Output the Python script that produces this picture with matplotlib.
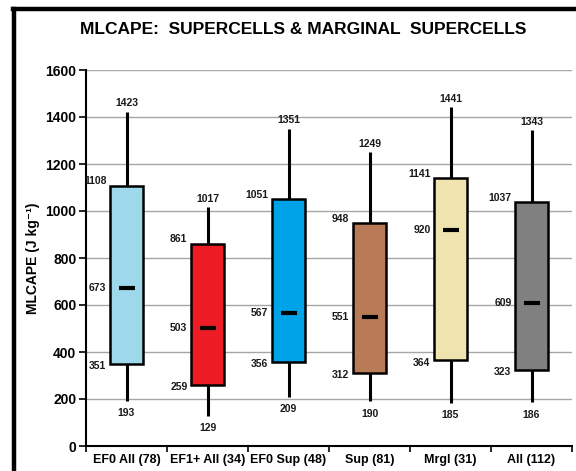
import numpy as np
import matplotlib
matplotlib.use('Agg')
import matplotlib.pyplot as plt
from matplotlib.lines import Line2D

plt.rcParams['font.family'] = ['Liberation Sans', 'DejaVu Sans']

categories = ['EF0 All (78)', 'EF1+ All (34)', 'EF0 Sup (48)',
              'Sup (81)', 'Mrgl (31)', 'All (112)']
mins = [193, 129, 209, 190, 185, 186]
q1 = [351, 259, 356, 312, 364, 323]
medians = [673, 503, 567, 551, 920, 609]
q3 = [1108, 861, 1051, 948, 1141, 1037]
maxs = [1423, 1017, 1351, 1249, 1441, 1343]
box_colors = ['#9DD9EA', '#ED1C24', '#00A2E8', '#B97A57', '#EFE4B0', '#808080']
title = 'MLCAPE:  SUPERCELLS & MARGINAL  SUPERCELLS'


def main():
    fig = plt.figure(figsize=(5.76, 4.71), dpi=100)
    ax = fig.add_axes([86/576, 25/471, 486/576, 376/471])

    x = np.arange(len(categories)) + 0.5
    width = 0.41

    # gridlines
    ax.set_ylim(0, 1600)
    ax.set_xlim(0, len(categories))
    ax.set_yticks(np.arange(0, 1601, 200))
    ax.yaxis.grid(True, color='#A6A6A6', linewidth=1.0)
    ax.set_axisbelow(True)

    # whiskers behind the boxes
    ax.vlines(x, mins, q1, color='black', linewidth=2.2, zorder=2)
    ax.vlines(x, q3, maxs, color='black', linewidth=2.2, zorder=2)
    ax.bar(x, np.array(q3) - np.array(q1), bottom=q1, width=width,
           color=box_colors, edgecolor='black', linewidth=1.8, zorder=3)
    ax.plot(x, medians, linestyle='none', marker='_', markersize=12,
            markeredgewidth=3, color='black', zorder=4)

    lbl = dict(fontsize=7.5, fontweight='bold', color='#1a1a1a',
               textcoords='offset points', zorder=5)
    half = width / 2
    for i in range(len(categories)):
        ax.annotate(str(maxs[i]), (x[i], maxs[i]), xytext=(0, 6),
                    ha='center', va='center', **lbl)
        ax.annotate(str(mins[i]), (x[i], mins[i]), xytext=(0, -9),
                    ha='center', va='center', **lbl)
        ax.annotate(str(q3[i]), (x[i] - half, q3[i]), xytext=(-2.5, 3),
                    ha='right', va='center', **lbl)
        ax.annotate(str(medians[i]), (x[i] - half, medians[i]), xytext=(-2.5, 0),
                    ha='right', va='center', **lbl)
        ax.annotate(str(q1[i]), (x[i] - half, q1[i]), xytext=(-2.5, -1.5),
                    ha='right', va='center', **lbl)

    # category boundary ticks on x axis
    ax.set_xticks(np.arange(0, len(categories) + 1))
    ax.set_xticklabels([])
    ax.set_xticks(x, minor=True)
    ax.set_xticklabels(categories, minor=True, fontsize=9, fontweight='bold')
    ax.tick_params(axis='x', which='minor', length=0, pad=6)
    ax.tick_params(axis='x', which='major', length=4, width=1.2, direction='out')
    ax.tick_params(axis='y', length=5, width=1.2, direction='out', pad=2,
                   labelsize=10)
    for t in ax.get_yticklabels():
        t.set_fontweight('bold')

    for side in ['top', 'right']:
        ax.spines[side].set_visible(False)
    ax.spines['left'].set_linewidth(1.5)
    ax.spines['bottom'].set_linewidth(1.5)

    ax.set_ylabel('MLCAPE (J kg\u207b\u00b9)', fontsize=10,
                  fontweight='bold', labelpad=4)

    fig.text(303/576, 1 - 30/471, title, ha='center', va='center',
             fontsize=12.5, fontweight='bold')

    # outer frame (top and left edges visible)
    fig.add_artist(Line2D([14/576, 14/576], [0, 1 - 9/471], color='black',
                          linewidth=3.2, transform=fig.transFigure))
    fig.add_artist(Line2D([12.5/576, 1], [1 - 9/471, 1 - 9/471], color='black',
                          linewidth=3.2, transform=fig.transFigure))

    fig.savefig('out.png', dpi=100)


if __name__ == '__main__':
    main()
